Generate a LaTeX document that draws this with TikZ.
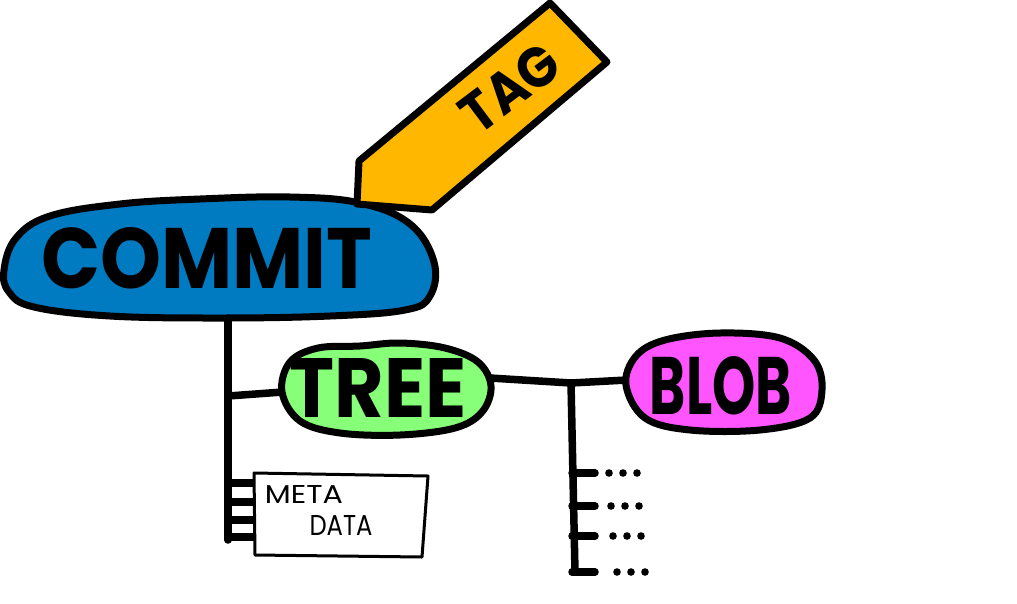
\documentclass[tikz,border=0pt]{standalone}
\usepackage{fontspec}
\setmainfont{Poppins}
\usepackage{graphicx}
\definecolor{commitblue}{RGB}{0,122,192}
\definecolor{tagorange}{RGB}{255,183,0}
\definecolor{treegreen}{RGB}{136,255,120}
\definecolor{blobpink}{RGB}{255,85,255}
\tikzset{
  outline/.style={draw=black, line width=7pt, line join=round},
  wire/.style={draw=black, line width=7.5pt, line cap=round, line join=round},
  tick/.style={draw=black, line width=7.5pt, line cap=round},
  thinbox/.style={draw=black, line width=3pt, fill=white, line join=round},
  label/.style={inner sep=0pt, font=\bfseries},
  dotmark/.style={fill=black},
}
\newcommand{\fitbox}[3]{\resizebox{#1pt}{#2pt}{#3}}
\begin{document}
\begin{tikzpicture}[x=1pt,y=-1pt]
\useasboundingbox (0,0) rectangle (1017,603);

% ---- COMMIT blob
\path[outline, fill=commitblue] plot[smooth cycle, tension=0.65] coordinates {
  (4,270) (16,238) (50,216) (120,204) (200,199) (290,197) (360,203)
  (410,224) (434,262) (430,296) (405,310) (330,316) (220,318) (110,316)
  (34,307) (9,292)};
\node[label] (commit) at (207,258) {\fitbox{331}{61}{COMMIT}};

% ---- TAG
\path[outline, fill=tagorange] (550,3) -- (607,62) -- (432,210) -- (357,204) -- (359,161) -- cycle;
\node[label, rotate=37] (tag) at (510,88) {\fitbox{108}{40}{TAG}};

% ---- connector points
\coordinate (cbot) at (228,318);
\coordinate (cend) at (228,540);
\coordinate (j1) at (228,396);
\coordinate (tleft) at (283,392);
\coordinate (tright) at (490,378);
\coordinate (j2) at (571,383);
\coordinate (bleft) at (627,380);
\coordinate (rend) at (575,572);

% ---- wires (behind blobs)
\draw[wire] (cbot) -- (cend);
\draw[wire] (j1) -- (tleft);
\draw[wire] (tright) -- (j2) -- (bleft);
\draw[wire] (j2) -- (rend);

% ---- meta ticks
\foreach \yy in {483,502,520,537} {
  \draw[tick] (228,\yy) -- (255,\yy);
}

% ---- META DATA box
\path[thinbox] (254,473) -- (428,476) -- (422,557) -- (255,555) -- cycle;
\node[label, font=\mdseries] (meta) at (304,494) {\fitbox{78}{18}{META}};
\node[label, font=\mdseries] (data) at (341,525) {\fitbox{63}{20}{DATA}};

% ---- TREE blob
\path[outline, fill=treegreen] plot[smooth cycle, tension=0.6] coordinates {
  (282,392) (290,362) (318,348) (360,346) (400,343) (445,348) (478,362)
  (491,386) (482,412) (455,428) (400,435) (340,433) (300,421)};
\node[label] (tree) at (378,388) {\fitbox{177}{59}{TREE}};

% ---- BLOB blob
\path[outline, fill=blobpink] plot[smooth cycle, tension=0.6] coordinates {
  (626,385) (636,356) (665,340) (720,333) (780,338) (814,360) (822,390)
  (810,418) (760,430) (690,430) (645,418)};
\node[label] (blob) at (721,386) {\fitbox{142}{58}{BLOB}};

% ---- right ticks and dots
\foreach \yy/\xs in {473/609,506/611,536/613,572/617} {
  \draw[tick] (572,\yy) -- (595,\yy);
  \foreach \k in {0,1,2} {
    \fill[dotmark] (\xs+14*\k,\yy) circle (3.8);
  }
}
\end{tikzpicture}
\end{document}
